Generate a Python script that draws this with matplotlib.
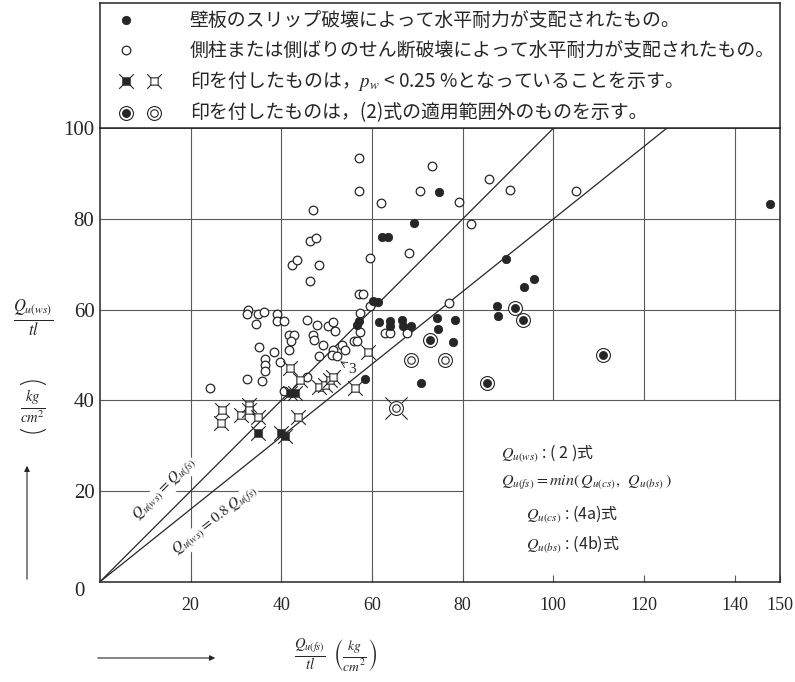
import matplotlib
matplotlib.use("Agg")
import matplotlib.pyplot as plt
from matplotlib.path import Path
from matplotlib.patches import Arc, FancyArrowPatch

plt.rcParams['font.family'] = ['Noto Sans CJK JP', 'DejaVu Sans']
plt.rcParams['mathtext.fontset'] = 'stix'

# --- data (x = Qu(fs)/tl, y = Qu(ws)/tl, kg/cm2) ---
open_x = [57.1, 57.1, 47.0, 46.3, 47.7, 42.4, 43.5, 48.3, 46.3, 59.5, 61.9, 57.1, 58.0, 59.6,
          57.4, 70.6, 73.3, 68.1, 79.3, 85.7, 90.5, 81.9, 105.0, 76.9, 57.4, 62.9, 64.0, 67.7,
          32.7, 32.4, 34.9, 36.1, 39.0, 39.0, 40.6, 34.4, 45.7, 47.9, 50.2, 51.4, 51.9, 41.6,
          42.8, 42.1, 47.0, 47.1, 49.3, 51.5, 48.4, 35.1, 38.4, 41.6, 36.5, 36.5, 36.5, 35.7,
          39.6, 32.5, 24.2, 45.7, 40.6, 56.0, 56.7, 53.3, 54.1, 51.1, 52.2]
open_y = [93.5, 86.1, 81.9, 75.2, 75.8, 69.9, 70.9, 69.8, 66.3, 71.4, 83.6, 63.4, 63.5, 60.7,
          59.3, 86.1, 91.6, 72.6, 83.7, 88.8, 86.3, 78.9, 86.1, 61.4, 55.1, 54.9, 54.9, 54.8,
          60.0, 59.1, 59.1, 59.4, 59.1, 57.4, 57.4, 56.9, 57.8, 56.7, 56.5, 57.2, 55.2, 54.4,
          54.4, 53.0, 54.4, 53.2, 52.2, 51.2, 49.8, 51.7, 50.6, 51.0, 49.1, 47.7, 46.4, 44.3,
          48.4, 44.7, 42.7, 45.2, 42.0, 53.0, 53.0, 52.2, 51.2, 50.1, 49.7]

filled_x = [69.3, 62.2, 63.5, 74.7, 60.3, 61.4, 89.5, 93.6, 95.7, 87.5, 87.7, 147.9, 57.1,
            56.8, 61.6, 64.0, 64.0, 66.6, 66.9, 68.5, 74.4, 78.2, 74.6, 77.9, 70.9, 58.5]
filled_y = [79.2, 76.0, 76.0, 85.9, 61.8, 61.6, 71.2, 65.1, 66.8, 60.7, 58.5, 83.3, 57.4,
            56.7, 57.2, 57.4, 56.5, 57.7, 56.5, 56.3, 58.2, 57.8, 55.8, 52.8, 43.9, 44.7]

ring_dot_x = [72.7, 91.6, 93.4, 85.3, 111.0]
ring_dot_y = [53.3, 60.4, 57.8, 43.8, 49.9]

ring_open_x = [68.5, 76.1]
ring_open_y = [48.8, 48.8]

spk_ring_x = [65.3]
spk_ring_y = [38.3]

spk_open_x = [42.0, 26.9, 26.7, 31.0, 32.9, 32.9, 34.9, 43.7, 48.2, 49.7, 50.7, 51.5, 56.3, 59.1, 44.1]
spk_open_y = [47.2, 37.8, 35.0, 36.8, 39.0, 37.8, 36.4, 36.3, 43.0, 43.4, 44.5, 45.2, 42.8, 50.6, 44.4]

spk_filled_x = [41.9, 43.0, 34.8, 39.9, 40.8]
spk_filled_y = [41.7, 41.6, 32.9, 32.7, 32.2]

ratios = [1.0, 0.8]
xticks = [20, 40, 60, 80, 100, 120, 140, 150]
yticks = [20, 40, 60, 80, 100]

legend_texts = [
    '壁板のスリップ破壊によって水平耐力が支配されたもの。',
    '側柱または側ばりのせん断破壊によって水平耐力が支配されたもの。',
    '印を付したものは，$p_w$ < 0.25 %となっていることを示す。',
    '印を付したものは，(2)式の適用範囲外のものを示す。',
]

ink = '#262626'
grid_c = '#5a5a5a'
serif = 'Liberation Serif'

# marker shapes
M, L, C = Path.MOVETO, Path.LINETO, Path.CLOSEPOLY
spiked = Path([(-1, -1), (1, -1), (1, 1), (-1, 1), (-1, -1),
               (1, 1), (2, 2), (-1, 1), (-2, 2), (1, -1), (2, -2), (-1, -1), (-2, -2)],
              [M, L, L, L, C, M, L, M, L, M, L, M, L])
spikes = Path([(1, 1), (2, 2), (-1, 1), (-2, 2), (1, -1), (2, -2), (-1, -1), (-2, -2)],
              [M, L, M, L, M, L, M, L])


def draw_open(a, x, y, **kw):
    a.plot(x, y, ls='none', marker='o', ms=6.2, mfc='white', mec=ink, mew=0.9, zorder=6, **kw)


def draw_filled(a, x, y, **kw):
    a.plot(x, y, ls='none', marker='o', ms=6.0, mfc=ink, mec=ink, mew=0.6, zorder=6, **kw)


def draw_ring_dot(a, x, y, **kw):
    a.plot(x, y, ls='none', marker='o', ms=10, mfc='white', mec=ink, mew=0.8, zorder=6, **kw)
    a.plot(x, y, ls='none', marker='o', ms=5.4, mfc=ink, mec=ink, zorder=7, **kw)


def draw_ring_open(a, x, y, **kw):
    a.plot(x, y, ls='none', marker='o', ms=10, mfc='white', mec=ink, mew=0.8, zorder=6, **kw)
    a.plot(x, y, ls='none', marker='o', ms=5.4, mfc='white', mec=ink, mew=0.8, zorder=7, **kw)


def draw_spiked(a, x, y, face, **kw):
    a.plot(x, y, ls='none', marker=spiked, ms=10.5, mfc=face, mec=ink, mew=0.8, zorder=6, **kw)


fig = plt.figure(figsize=(7.95, 6.82), dpi=100)
ax = fig.add_axes([100 / 795, 1 - 581.7 / 682, 680 / 795, 453.4 / 682])
ax.set_xlim(0, 150)
ax.set_ylim(0, 100)

# grid (lower right corner left open for the formula notes)
ax.vlines([20, 40, 60, 80], 0, 100, color=grid_c, lw=0.8, zorder=1)
ax.vlines([100, 120, 140], 40, 100, color=grid_c, lw=0.8, zorder=1)
ax.hlines([40, 60, 80], 0, 150, color=grid_c, lw=0.8, zorder=1)
ax.hlines([20], 0, 80, color=grid_c, lw=0.8, zorder=1)

for r in ratios:
    ax.axline((0, 0), slope=r, color=ink, lw=0.9, zorder=4)

draw_open(ax, open_x, open_y)
draw_filled(ax, filled_x, filled_y)
draw_ring_dot(ax, ring_dot_x, ring_dot_y)
draw_ring_open(ax, ring_open_x, ring_open_y)
ax.plot(spk_ring_x, spk_ring_y, ls='none', marker=spikes, ms=16, mec=ink, mew=0.8, zorder=5)
draw_ring_open(ax, spk_ring_x, spk_ring_y)
draw_spiked(ax, spk_open_x, spk_open_y, 'white')
draw_spiked(ax, spk_filled_x, spk_filled_y, ink)

ax.annotate('3', xy=(53.0, 48.6), xytext=(54.8, 46.9), fontsize=11, family=serif, color=ink,
            ha='left', va='center',
            arrowprops=dict(arrowstyle='->', lw=0.6, color=ink, shrinkA=1, shrinkB=0))

# labels of the two reference lines
ax.text(14.3, 20.3, r'$Q_{u(ws)} = Q_{u(fs)}$', rotation=45, rotation_mode='anchor',
        ha='center', va='center', fontsize=11, color=ink, zorder=3,
        bbox=dict(fc='white', ec='none', pad=0.2))
ax.text(25.5, 13.3, r'$Q_{u(ws)} = 0.8\,Q_{u(fs)}$', rotation=38, rotation_mode='anchor',
        ha='center', va='center', fontsize=11, color=ink, zorder=3,
        bbox=dict(fc='white', ec='none', pad=0.2))

# formula notes
note_kw = dict(fontsize=11.5, color=ink, ha='left', va='center')
ax.text(88.5, 28.4, r'$Q_{u(ws)}$ : ( 2 )式', **note_kw)
ax.text(88.5, 21.8, r'$Q_{u(fs)} = min(\,Q_{u(cs)},\;\;Q_{u(bs)}\,)$', **note_kw)
ax.text(94.0, 14.9, r'$Q_{u(cs)}$ : (4a)式', **note_kw)
ax.text(94.0, 8.3, r'$Q_{u(bs)}$ : (4b)式', **note_kw)

# ticks
ax.set_xticks(xticks)
ax.set_xticklabels([str(t) for t in xticks], family=serif, fontsize=13, color=ink)
ax.set_yticks(yticks)
ax.set_yticklabels([str(t) for t in yticks], family=serif, fontsize=15, color=ink)
ax.tick_params(axis='x', direction='in', length=5, width=0.8, color=grid_c, pad=11)
ax.tick_params(axis='y', length=0, pad=4)
ax.text(-3.3, -2.2, '0', family=serif, fontsize=15, color=ink, ha='right', va='center')
for s in ax.spines.values():
    s.set_color(ink)
    s.set_linewidth(1.1)

# axis titles
fig.text(33 / 795, 1 - 318 / 682, r'$\frac{Q_{u(ws)}}{tl}$', fontsize=17, color=ink,
         ha='center', va='center')
fig.text(33 / 795, 1 - 407 / 682, r'$\frac{kg}{cm^2}$', fontsize=15, color=ink,
         ha='center', va='center')
# turned brackets round the unit, drawn in inches from the figure corner
fig.add_artist(Arc((0.33, (682 - 407) / 100), 0.5, 0.52, theta1=60, theta2=120,
                   transform=fig.dpi_scale_trans, color=ink, lw=0.8))
fig.add_artist(Arc((0.33, (682 - 407) / 100), 0.5, 0.52, theta1=240, theta2=300,
                   transform=fig.dpi_scale_trans, color=ink, lw=0.8))
fig.add_artist(FancyArrowPatch(
    (27 / 795, 1 - 582 / 682), (27 / 795, 1 - 463 / 682), transform=fig.transFigure,
    arrowstyle='-|>', mutation_scale=8, lw=0.8, color=ink))

fig.text(310 / 795, 1 - 655 / 682, r'$\frac{Q_{u(fs)}}{tl}$', fontsize=15, color=ink,
         ha='center', va='center')
fig.text(355 / 795, 1 - 655 / 682, r'$\left(\frac{kg}{cm^2}\right)$', fontsize=14, color=ink,
         ha='center', va='center')
fig.add_artist(FancyArrowPatch(
    (95 / 795, 1 - 658 / 682), (218 / 795, 1 - 658 / 682), transform=fig.transFigure,
    arrowstyle='-|>', mutation_scale=8, lw=0.8, color=ink))

# legend box above the plot
lax = fig.add_axes([100 / 795, 1 - 128.3 / 682, 680 / 795, 125.3 / 682])
lax.set_xlim(100, 780)
lax.set_ylim(128.3, 3)
lax.set_xticks([])
lax.set_yticks([])
for s in lax.spines.values():
    s.set_color(ink)
    s.set_linewidth(1.1)

rows_y = [20, 50, 81, 113]
draw_filled(lax, [126], [rows_y[0]])
draw_open(lax, [126], [rows_y[1]])
draw_spiked(lax, [126], [rows_y[2]], ink)
draw_spiked(lax, [154], [rows_y[2]], 'white')
draw_ring_dot(lax, [126], [rows_y[3]])
draw_ring_open(lax, [154], [rows_y[3]])
for yy, t in zip(rows_y, legend_texts):
    lax.text(190, yy, t, fontsize=13.6, color=ink, ha='left', va='center')

fig.savefig('out.png', dpi=100)
